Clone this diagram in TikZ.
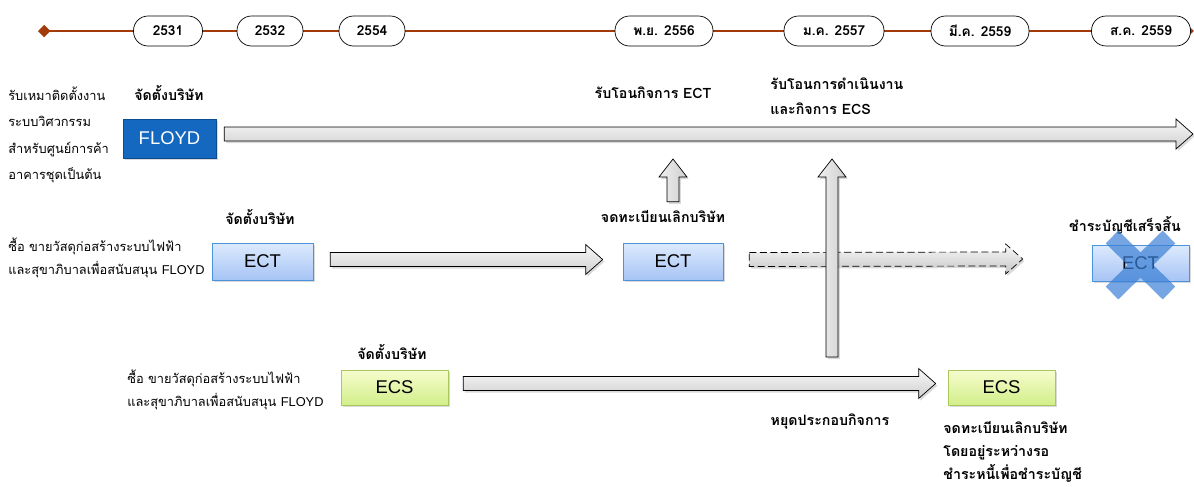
\documentclass[tikz,border=0pt]{standalone}
\usepackage{fontspec}
\setmainfont[Script=Thai]{Loma}
\newfontfamily\boxfont{Liberation Sans}
\newcommand{\latinfloyd}{{\boxfont\fontsize{7.3}{13}\selectfont FLOYD}}
\usetikzlibrary{arrows.meta,calc,shadows}

\definecolor{timeline}{HTML}{A33A0A}
\definecolor{floydblue}{HTML}{1468BF}
\definecolor{floydedge}{HTML}{0B4C8F}
\definecolor{ecttop}{HTML}{DDEAFD}
\definecolor{ectbottom}{HTML}{A6C4F5}
\definecolor{ectedge}{HTML}{4C93DD}
\definecolor{ecstop}{HTML}{F6FCCD}
\definecolor{ecsbottom}{HTML}{D2EE8A}
\definecolor{ecsedge}{HTML}{A9C75C}
\definecolor{crossblue}{HTML}{3A7FD5}

\begin{document}
\begin{tikzpicture}[x=0.02cm,y=-0.02cm,
    every node/.style={font=\fontsize{7.3}{13}\selectfont, inner sep=0pt},
    year/.style={draw, fill=white, rounded corners=0.29cm, minimum height=0.6cm,
        minimum width=#1, font=\fontsize{7.8}{9}\selectfont\bfseries},
    title/.style={font=\fontsize{8.1}{13}\selectfont\bfseries},
    desc/.style={align=left, anchor=west},
    company/.style={draw, minimum width=#1, minimum height=0.74cm,
        font=\boxfont\fontsize{10.5}{12}\selectfont,
        drop shadow={shadow xshift=1pt, shadow yshift=-1.2pt, opacity=0.3}},
    ectbox/.style={company=#1, ectedge, top color=ecttop, bottom color=ectbottom, text=black},
    ecsbox/.style={company=#1, ecsedge, top color=ecstop, bottom color=ecsbottom, text=black},
    harrow/.style={draw, top color=gray!5, bottom color=gray!38,
        drop shadow={shadow xshift=1pt, shadow yshift=-1.2pt, opacity=0.3},
        to path={($(\tikztostart)+(0,-7)$) -- ($(\tikztotarget)+(-17,-7)$)
            -- ($(\tikztotarget)+(-17,-15)$) -- (\tikztotarget)
            -- ($(\tikztotarget)+(-17,15)$) -- ($(\tikztotarget)+(-17,7)$)
            -- ($(\tikztostart)+(0,7)$) -- cycle}},
    varrow/.style={draw, left color=gray!12, right color=gray!38,
        drop shadow={shadow xshift=1pt, shadow yshift=-1.2pt, opacity=0.3},
        to path={($(\tikztostart)+(-6,0)$) -- ($(\tikztotarget)+(-6,18)$)
            -- ($(\tikztotarget)+(-14,18)$) -- (\tikztotarget)
            -- ($(\tikztotarget)+(14,18)$) -- ($(\tikztotarget)+(6,18)$)
            -- ($(\tikztostart)+(6,0)$) -- cycle}}
  ]
  \useasboundingbox (0,0) rectangle (1194,487);

  % timeline
  \coordinate (tstart) at (38,31);
  \coordinate (tend) at (1194,31);
  \draw[timeline, line width=1.7pt, {Diamond[length=7pt,width=7pt]}-{Triangle[length=4pt,width=7pt]}] (tstart) -- (tend);
  \node[year=1.38cm] (y2531) at (168,31) {2531};
  \node[year=1.32cm] (y2532) at (270,31) {2532};
  \node[year=1.32cm] (y2554) at (372,31) {2554};
  \node[year=1.96cm] (y2556) at (664,31) {พ.ย. 2556};
  \node[year=2.0cm] (y2557) at (834,31) {ม.ค. 2557};
  \node[year=1.96cm] (y2559a) at (980,31) {มี.ค. 2559};
  \node[year=1.98cm] (y2559b) at (1141,31) {ส.ค. 2559};

  % FLOYD row
  \node[desc] (floyddesc) at (8,135) {รับเหมาติดตั้งงาน\\[2pt]ระบบวิศวกรรม\\[2pt]สำหรับศูนย์การค้า\\[2pt]อาคารชุดเป็นต้น};
  \node[title] (floydset) at (169,93) {จัดตั้งบริษัท};
  \node[company=1.86cm, draw=floydedge, fill=floydblue, text=white, minimum height=0.78cm] (floyd) at (169.5,138.5) {FLOYD};
  \coordinate (floydend) at (1193,134);
  \draw[harrow] ($(floyd.east)+(8,-4.5)$) to (floydend);
  \node[title] (takeect) at (653,93) {รับโอนกิจการ ECT};
  \node[title, desc] (takeecs) at (770,96) {รับโอนการดำเนินงาน\\[1pt]และกิจการ ECS};

  % ECT row
  \node[desc] (ectdesc) at (8,258) {ซื้อ ขายวัสดุก่อสร้างระบบไฟฟ้า\\และสุขาภิบาลเพื่อสนับสนุน \latinfloyd};
  \node[title] (ectset) at (260,217) {จัดตั้งบริษัท};
  \node[ectbox=2.02cm] (ect) at (262.5,261.5) {ECT};
  \node[ectbox=2.0cm] (ectclose) at (673,261.5) {ECT};
  \node[title] (ectreg) at (663,217) {จดทะเบียนเลิกบริษัท};
  \draw[harrow] ($(ect.east)+(17,-2)$) to ($(ectclose.west)+(-20,-2)$);
  \coordinate (ectup) at (673,159);
  \draw[varrow] ($(ectclose.north)+(0,-41)$) to (ectup);
  \node[ectbox=1.94cm, minimum height=0.72cm] (ectend) at (1140.5,263) {ECT};
  \node[title] (ectdone) at (1125,225) {ชำระบัญชีเสร็จสิ้น};
  \draw[harrow, dashed, dash pattern=on 4pt off 2pt, bottom color=gray!45] ($(ectclose.east)+(26,-2)$) to ($(ectend.west)+(-69,-4)$);
  \draw[crossblue, opacity=0.7, line width=0.36cm] (1112,237) -- (1169,293) (1169,237) -- (1112,293);

  % ECS row
  \node[desc] (ecsdesc) at (127,390) {ซื้อ ขายวัสดุก่อสร้างระบบไฟฟ้า\\และสุขาภิบาลเพื่อสนับสนุน \latinfloyd};
  \node[title] (ecsset) at (392,352) {จัดตั้งบริษัท};
  \node[ecsbox=2.14cm, minimum height=0.7cm] (ecs) at (394.5,387.5) {ECS};
  \node[ecsbox=2.14cm, minimum height=0.7cm] (ecsclose) at (1001.5,387.5) {ECS};
  \draw[harrow] ($(ecs.east)+(15,-4)$) to ($(ecsclose.west)+(-12,-4)$);
  \node[title] (ecsstop) at (830,422) {หยุดประกอบกิจการ};
  \node[title, align=left, anchor=north west] (ecsreg) at (943,421) {จดทะเบียนเลิกบริษัท\\โดยอยู่ระหว่างรอ\\ชำระหนี้เพื่อชำระบัญชี};
  \coordinate (ecsup) at (832,159);
  \draw[varrow] (832,357) to (ecsup);
\end{tikzpicture}
\end{document}
